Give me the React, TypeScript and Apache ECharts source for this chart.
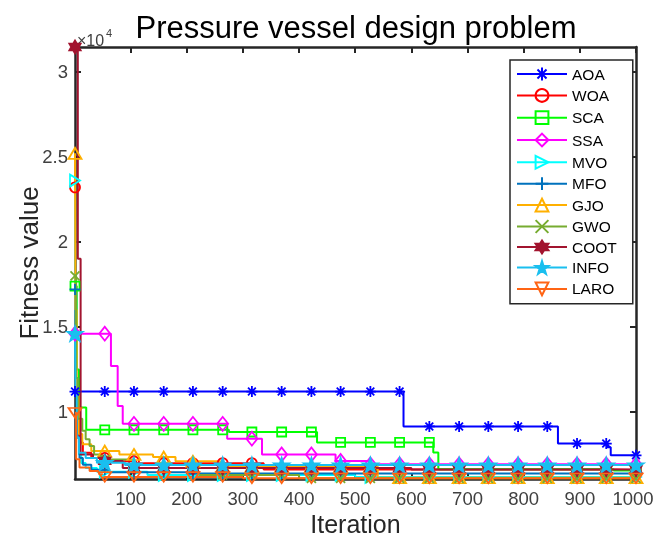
import React, { useEffect, useRef } from 'react';
import * as echarts from 'echarts';

// ---- data (iteration, best fitness) change points ----
const names = ['AOA', 'WOA', 'SCA', 'SSA', 'MVO', 'MFO', 'GJO', 'GWO', 'COOT', 'INFO', 'LARO'];
const colors = ['#0000FF', '#FF0000', '#00FF00', '#FF00FF', '#00FFFF', '#0072BD', '#FFB000', '#77AC30', '#A2142F', '#1ABFEF', '#FF6414'];

const AOA = [[1, 11200], [586, 9150], [861, 8140], [949, 7920], [955, 7450]];
const WOA = [[1, 23200], [2, 16000], [3, 12000], [5, 9500], [8, 8200], [15, 7600], [30, 7300], [60, 7100], [110, 6990], [337, 6620], [960, 6590]];
const SCA = [[1, 17400], [4, 12500], [8, 10260], [21, 8950], [275, 8820], [432, 8210], [639, 7610], [648, 6630], [960, 6560]];
const SSA = [[1, 14600], [65, 12700], [77, 10350], [86, 9300], [272, 8430], [334, 7500], [465, 7120], [527, 6920]];
const MVO = [[1, 23600], [2, 15000], [3, 11000], [5, 8500], [8, 7500], [12, 7000], [20, 6700], [40, 6490], [130, 6300], [500, 6180]];
const MFO = [[1, 17200], [3, 11000], [5, 8500], [9, 7300], [15, 6900], [30, 6600], [60, 6450], [200, 6380]];
const GJO = [[1, 25200], [2, 16000], [4, 11000], [8, 8700], [14, 8100], [30, 7700], [80, 7500], [140, 7350], [180, 7100], [260, 6800], [540, 6130]];
const GWO = [[1, 18000], [3, 12000], [6, 9600], [14, 8900], [20, 8400], [27, 8000], [35, 7500], [50, 7200], [105, 6700], [220, 6300], [400, 6100]];
const COOT = [[1, 31450], [6, 19000], [11, 7500], [33, 7300], [50, 7120], [86, 6700], [600, 6620]];
const INFO = [[1, 14600], [2, 11000], [4, 8500], [8, 7600], [20, 7300], [40, 7020], [90, 6884]];
const LARO = [[1, 9950], [3, 7220], [9, 6730], [27, 6530], [44, 6335], [50, 6180], [300, 6100]];

const allSteps = [AOA, WOA, SCA, SSA, MVO, MFO, GJO, GWO, COOT, INFO, LARO];

const xTicks = [100, 200, 300, 400, 500, 600, 700, 800, 900, 1000];
const yTicks = [10000, 15000, 20000, 25000, 30000];
const yMin = 6059;
const yMax = 31450;

// marker positions: 20 evenly spaced iterations
const markerIters = Array.from({ length: 20 }, (_, i) => Math.round(1 + (i * 999) / 19));

function starPath(n: number, ro: number, ri: number) {
  let d = '';
  for (let k = 0; k < 2 * n; k++) {
    const r = k % 2 === 0 ? ro : ri;
    const a = -Math.PI / 2 + (k * Math.PI) / n;
    d += (k === 0 ? 'M' : 'L') + (r * Math.cos(a)).toFixed(3) + ',' + (r * Math.sin(a)).toFixed(3);
  }
  return 'path://' + d + 'Z';
}

const symbols: any[] = [
  'path://M0,-10L0,10M-10,0L10,0M-7.07,-7.07L7.07,7.07M-7.07,7.07L7.07,-7.07',
  'circle',
  'rect',
  'diamond',
  'path://M0,0L10,5.5L0,11Z',
  'path://M0,-10L0,10M-10,0L10,0',
  'triangle',
  'path://M-7,-7L7,7M-7,7L7,-7',
  starPath(6, 10, 5.77),
  starPath(5, 10, 3.9),
  'path://M0,10L-8.66,-5L8.66,-5Z',
];
const symbolSizes: any[] = [11, 10, 9, [11, 14], [11, 12], 11, [13, 11], 9, 13, 15, [13, 11]];
const filled = [true, false, false, false, false, true, false, true, true, true, false];

function buildData(steps: number[][]) {
  const xs = Array.from(new Set<number>([...steps.map((s) => s[0]), ...markerIters])).sort((a, b) => a - b);
  return xs.map((x) => {
    let v = steps[0][1];
    for (const s of steps) if (s[0] <= x) v = s[1];
    return markerIters.includes(x) ? { value: [x, v] } : { value: [x, v], symbol: 'none' };
  });
}

const FONT = '"Liberation Sans", Arial, Helvetica, sans-serif';
const AXIS_COLOR = '#262626';

export default function App() {
  const ref = useRef<HTMLDivElement>(null);
  useEffect(() => {
    document.body.style.margin = '0';
    const chart = echarts.init(ref.current!, null, { renderer: 'svg' });
    const axisCommon = {
      type: 'value' as const,
      axisLine: { show: true, onZero: false, lineStyle: { color: AXIS_COLOR, width: 2.5 } },
      splitLine: { show: false },
    };
    const series = names.map((name, i) => ({
      name,
      type: 'line',
      step: 'end',
      data: buildData(allSteps[i]),
      symbol: symbols[i],
      symbolSize: symbolSizes[i],
      symbolKeepAspect: true,
      clip: false,
      lineStyle: { color: colors[i], width: 2 },
      itemStyle: { color: filled[i] ? colors[i] : 'none', borderColor: colors[i], borderWidth: 1.8 },
      emphasis: { disabled: true },
      animation: false,
    }));
    chart.setOption({
      animation: false,
      textStyle: { fontFamily: FONT },
      grid: { left: 75, right: 18, top: 47, bottom: 58, containLabel: false, outerBoundsMode: 'none' },
      xAxis: [
        {
          ...axisCommon,
          min: 1,
          max: 1000,
          position: 'bottom',
          axisTick: { show: true, inside: true, length: 6, customValues: xTicks, lineStyle: { color: AXIS_COLOR, width: 2 } },
          axisLabel: {
            customValues: xTicks,
            fontSize: 18.5,
            color: '#404040',
            margin: 10,
            fontFamily: FONT,
            formatter: (v: number) => (v === 1000 ? '{r|1000}' : String(v)),
            rich: { r: { fontSize: 18.5, color: '#404040', fontFamily: FONT, padding: [0, 6, 0, 0] } },
          },
          name: 'Iteration',
          nameLocation: 'middle',
          nameGap: 32,
          nameMoveOverlap: false,
          nameTextStyle: { fontSize: 25, color: AXIS_COLOR, fontFamily: FONT },
        },
        {
          ...axisCommon,
          min: 1,
          max: 1000,
          position: 'top',
          axisTick: { show: true, inside: true, length: 6, customValues: xTicks, lineStyle: { color: AXIS_COLOR, width: 2 } },
          axisLabel: { show: false },
        },
      ],
      yAxis: [
        {
          ...axisCommon,
          min: yMin,
          max: yMax,
          position: 'left',
          axisTick: { show: true, inside: true, length: 6, customValues: yTicks, lineStyle: { color: AXIS_COLOR, width: 2 } },
          axisLabel: {
            customValues: yTicks,
            fontSize: 18.5,
            color: '#404040',
            margin: 7,
            fontFamily: FONT,
            formatter: (v: number) => String(v / 10000),
          },
          name: 'Fitness value',
          nameLocation: 'middle',
          nameGap: 33,
          nameMoveOverlap: false,
          nameTextStyle: { fontSize: 26, color: AXIS_COLOR, fontFamily: FONT },
        },
        {
          ...axisCommon,
          min: yMin,
          max: yMax,
          position: 'right',
          axisTick: { show: true, inside: true, length: 6, customValues: yTicks, lineStyle: { color: AXIS_COLOR, width: 2 } },
          axisLabel: { show: false },
        },
      ],
      legend: {
        data: names,
        orient: 'vertical',
        left: 510,
        top: 60,
        padding: [6, 16, 6, 6],
        itemWidth: 50,
        itemHeight: 16,
        itemGap: 4.5,
        backgroundColor: '#fff',
        borderColor: AXIS_COLOR,
        borderWidth: 1.5,
        borderRadius: 0,
        selectedMode: false,
        textStyle: { fontSize: 15.5, color: '#000', fontFamily: FONT, lineHeight: 16 },
      },
      graphic: [
        {
          type: 'text',
          x: 356,
          y: 27,
          style: {
            text: 'Pressure vessel design problem',
            fontSize: 31,
            fontFamily: FONT,
            fill: '#000',
            textAlign: 'center',
            align: 'center',
            textVerticalAlign: 'middle',
            verticalAlign: 'middle',
          },
        },
        {
          type: 'text',
          x: 77,
          y: 40,
          style: { text: '×10', fontSize: 16, fontFamily: FONT, fill: '#404040', textVerticalAlign: 'middle', verticalAlign: 'middle' },
        },
        {
          type: 'text',
          x: 106,
          y: 33,
          style: { text: '4', fontSize: 11, fontFamily: FONT, fill: '#404040', textVerticalAlign: 'middle', verticalAlign: 'middle' },
        },
      ],
      series,
    });
    return () => chart.dispose();
  }, []);
  return <div ref={ref} style={{ position: 'fixed', left: 0, top: 0, width: 654, height: 537 }} />;
}
